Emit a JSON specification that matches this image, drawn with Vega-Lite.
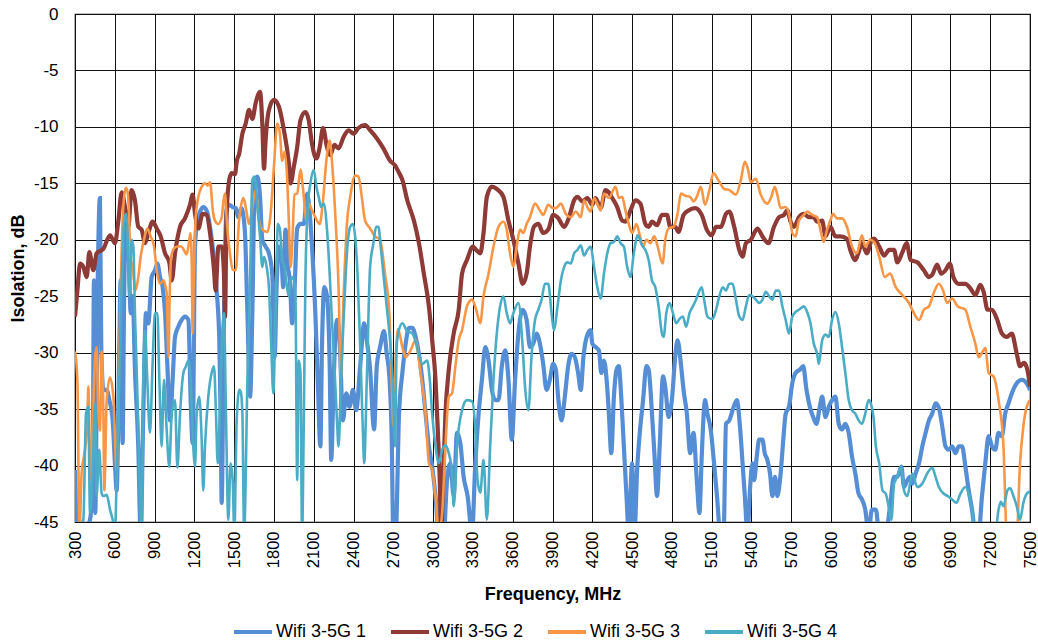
{
"$schema":"https://vega.github.io/schema/vega-lite/v6.json",
"width":955,"height":508,
"autosize":{"type":"none"},
"padding":{"left":75,"top":14,"right":8,"bottom":121},
"background":"white",
"config":{"view":{"stroke":"#000","strokeWidth":1.2},"font":"Liberation Sans",
"axis":{"labelColor":"#000","titleColor":"#000","ticks":false,"domain":false,"grid":true,"gridColor":"#111","gridWidth":1,"labelFont":"Liberation Sans","titleFont":"Liberation Sans"}},
"datasets":{
"s1":[{"f":300,"v":-40.4},{"f":318,"v":-46},{"f":363,"v":-46},{"f":413,"v":-44.8},{"f":433,"v":-41.3},{"f":443,"v":-23.6},{"f":453,"v":-44.2},{"f":468,"v":-26.5},{"f":488,"v":-16.3},{"f":498,"v":-29.5},{"f":514,"v":-33.3},{"f":539,"v":-33.3},{"f":559,"v":-34.2},{"f":584,"v":-36.0},{"f":601,"v":-39.8},{"f":614,"v":-42.2},{"f":634,"v":-29.5},{"f":644,"v":-23.6},{"f":659,"v":-38.0},{"f":669,"v":-26.5},{"f":685,"v":-18.3},{"f":702,"v":-20.0},{"f":720,"v":-26.5},{"f":735,"v":-25.0},{"f":752,"v":-31.5},{"f":777,"v":-38.3},{"f":795,"v":-46},{"f":815,"v":-35.4},{"f":835,"v":-26.5},{"f":853,"v":-27.4},{"f":878,"v":-23.3},{"f":903,"v":-22.7},{"f":921,"v":-22.1},{"f":941,"v":-23.3},{"f":961,"v":-24.2},{"f":979,"v":-26.5},{"f":996,"v":-31.0},{"f":1016,"v":-36.0},{"f":1036,"v":-32.4},{"f":1054,"v":-28.6},{"f":1079,"v":-27.7},{"f":1104,"v":-27.1},{"f":1129,"v":-26.8},{"f":1155,"v":-27.1},{"f":1172,"v":-34.2},{"f":1187,"v":-38.0},{"f":1205,"v":-20.6},{"f":1222,"v":-18.3},{"f":1247,"v":-17.4},{"f":1267,"v":-17.1},{"f":1292,"v":-17.4},{"f":1318,"v":-18.85},{"f":1343,"v":-21.2},{"f":1368,"v":-24.5},{"f":1388,"v":-28.9},{"f":1398,"v":-35.4},{"f":1406,"v":-43.3},{"f":1418,"v":-32.4},{"f":1431,"v":-21.2},{"f":1443,"v":-17.4},{"f":1463,"v":-16.9},{"f":1488,"v":-17.1},{"f":1513,"v":-17.2},{"f":1530,"v":-18.0},{"f":1555,"v":-17.2},{"f":1580,"v":-19.1},{"f":1600,"v":-26.5},{"f":1620,"v":-33.9},{"f":1637,"v":-26.5},{"f":1655,"v":-15.0},{"f":1675,"v":-14.4},{"f":1695,"v":-16.2},{"f":1712,"v":-20.0},{"f":1737,"v":-20.6},{"f":1762,"v":-21.2},{"f":1787,"v":-23.0},{"f":1805,"v":-30.4},{"f":1820,"v":-24.2},{"f":1837,"v":-20.6},{"f":1855,"v":-21.2},{"f":1870,"v":-24.2},{"f":1887,"v":-19.1},{"f":1905,"v":-22.4},{"f":1920,"v":-23.6},{"f":1937,"v":-27.4},{"f":1955,"v":-24.5},{"f":1975,"v":-19.0},{"f":2000,"v":-18.6},{"f":2025,"v":-18.6},{"f":2050,"v":-15.9},{"f":2070,"v":-17.7},{"f":2087,"v":-20.6},{"f":2112,"v":-26.5},{"f":2130,"v":-32.4},{"f":2150,"v":-38.3},{"f":2162,"v":-29.5},{"f":2180,"v":-24.2},{"f":2200,"v":-25.0},{"f":2220,"v":-31.0},{"f":2232,"v":-39.5},{"f":2250,"v":-32.4},{"f":2275,"v":-27.1},{"f":2295,"v":-28.9},{"f":2320,"v":-36.0},{"f":2345,"v":-33.6},{"f":2370,"v":-34.8},{"f":2395,"v":-33.3},{"f":2420,"v":-35.1},{"f":2450,"v":-31.2},{"f":2480,"v":-27.4},{"f":2500,"v":-28.9},{"f":2525,"v":-31.5},{"f":2555,"v":-36.8},{"f":2575,"v":-31.2},{"f":2600,"v":-29.5},{"f":2630,"v":-28.1},{"f":2650,"v":-30.1},{"f":2670,"v":-32.1},{"f":2687,"v":-37.1},{"f":2700,"v":-46},{"f":2718,"v":-46},{"f":2743,"v":-35.4},{"f":2768,"v":-31.8},{"f":2793,"v":-29.2},{"f":2818,"v":-27.8},{"f":2843,"v":-27.8},{"f":2868,"v":-28.6},{"f":2893,"v":-30.1},{"f":2918,"v":-32.4},{"f":2943,"v":-35.4},{"f":2968,"v":-38.3},{"f":2993,"v":-40.1},{"f":3018,"v":-42.7},{"f":3043,"v":-46},{"f":3080,"v":-46},{"f":3105,"v":-41.3},{"f":3130,"v":-39.8},{"f":3155,"v":-42.7},{"f":3180,"v":-37.1},{"f":3205,"v":-38.0},{"f":3230,"v":-41.0},{"f":3260,"v":-42.7},{"f":3293,"v":-46},{"f":3318,"v":-39.8},{"f":3343,"v":-35.4},{"f":3368,"v":-32.4},{"f":3393,"v":-29.5},{"f":3418,"v":-30.7},{"f":3443,"v":-33.3},{"f":3468,"v":-34.2},{"f":3493,"v":-34.2},{"f":3518,"v":-31.2},{"f":3543,"v":-29.8},{"f":3568,"v":-32.4},{"f":3593,"v":-37.7},{"f":3618,"v":-32.4},{"f":3643,"v":-28.3},{"f":3675,"v":-26.2},{"f":3705,"v":-27.1},{"f":3730,"v":-29.5},{"f":3755,"v":-29.2},{"f":3780,"v":-28.3},{"f":3805,"v":-29.2},{"f":3830,"v":-31.0},{"f":3855,"v":-33.3},{"f":3880,"v":-32.4},{"f":3905,"v":-31.0},{"f":3925,"v":-31.5},{"f":3943,"v":-34},{"f":3968,"v":-36.0},{"f":3993,"v":-33.9},{"f":4018,"v":-31.2},{"f":4043,"v":-30.1},{"f":4068,"v":-30.4},{"f":4093,"v":-31.8},{"f":4113,"v":-33.3},{"f":4133,"v":-30.4},{"f":4158,"v":-28.6},{"f":4188,"v":-28.0},{"f":4200,"v":-29.2},{"f":4225,"v":-29.5},{"f":4250,"v":-29.8},{"f":4268,"v":-31.8},{"f":4288,"v":-30.7},{"f":4308,"v":-32.4},{"f":4325,"v":-35.4},{"f":4343,"v":-38.9},{"f":4363,"v":-33.9},{"f":4383,"v":-31.5},{"f":4400,"v":-31.2},{"f":4418,"v":-33.9},{"f":4438,"v":-38.3},{"f":4458,"v":-42.7},{"f":4475,"v":-46},{"f":4500,"v":-39.8},{"f":4518,"v":-46},{"f":4538,"v":-40.4},{"f":4558,"v":-37.1},{"f":4583,"v":-34.2},{"f":4608,"v":-31.2},{"f":4625,"v":-31.5},{"f":4650,"v":-35.4},{"f":4668,"v":-38.9},{"f":4688,"v":-42.7},{"f":4708,"v":-38.3},{"f":4733,"v":-32.1},{"f":4750,"v":-33.0},{"f":4775,"v":-35.7},{"f":4800,"v":-34.2},{"f":4825,"v":-30.4},{"f":4843,"v":-28.9},{"f":4868,"v":-31.0},{"f":4888,"v":-33.3},{"f":4913,"v":-35.4},{"f":4938,"v":-38.9},{"f":4963,"v":-37.1},{"f":4988,"v":-41.3},{"f":5008,"v":-44.2},{"f":5025,"v":-39.2},{"f":5050,"v":-34.2},{"f":5068,"v":-35.4},{"f":5093,"v":-36.8},{"f":5118,"v":-39.8},{"f":5140,"v":-42.7},{"f":5165,"v":-46},{"f":5190,"v":-46},{"f":5208,"v":-36.3},{"f":5233,"v":-36.0},{"f":5258,"v":-35.1},{"f":5290,"v":-34.2},{"f":5315,"v":-36.8},{"f":5333,"v":-39.8},{"f":5350,"v":-42.7},{"f":5370,"v":-46},{"f":5390,"v":-41.9},{"f":5408,"v":-39.8},{"f":5420,"v":-41.3},{"f":5440,"v":-39.2},{"f":5458,"v":-37.7},{"f":5483,"v":-37.7},{"f":5500,"v":-38.9},{"f":5520,"v":-39.5},{"f":5540,"v":-40.7},{"f":5558,"v":-42.7},{"f":5578,"v":-41.0},{"f":5595,"v":-42.7},{"f":5620,"v":-40.7},{"f":5640,"v":-37.7},{"f":5658,"v":-35.4},{"f":5683,"v":-34.8},{"f":5708,"v":-32.7},{"f":5733,"v":-31.8},{"f":5765,"v":-31.5},{"f":5790,"v":-31.2},{"f":5815,"v":-33.3},{"f":5840,"v":-34.8},{"f":5865,"v":-35.7},{"f":5890,"v":-36.3},{"f":5915,"v":-34.8},{"f":5933,"v":-33.9},{"f":5958,"v":-35.7},{"f":5983,"v":-34.8},{"f":6008,"v":-34.2},{"f":6033,"v":-33.9},{"f":6058,"v":-36.3},{"f":6083,"v":-36.8},{"f":6108,"v":-36.3},{"f":6133,"v":-37.1},{"f":6158,"v":-39.2},{"f":6183,"v":-40.7},{"f":6208,"v":-42.5},{"f":6233,"v":-43.0},{"f":6258,"v":-43.9},{"f":6283,"v":-46},{"f":6308,"v":-43.9},{"f":6338,"v":-43.9},{"f":6363,"v":-46},{"f":6413,"v":-46},{"f":6445,"v":-43.6},{"f":6475,"v":-41.0},{"f":6500,"v":-41.0},{"f":6530,"v":-40.1},{"f":6550,"v":-41.9},{"f":6575,"v":-41.3},{"f":6595,"v":-41.0},{"f":6613,"v":-41.6},{"f":6638,"v":-40.7},{"f":6663,"v":-39.8},{"f":6688,"v":-38.3},{"f":6713,"v":-37.1},{"f":6738,"v":-36.0},{"f":6763,"v":-35.4},{"f":6788,"v":-34.5},{"f":6813,"v":-34.9},{"f":6838,"v":-36.5},{"f":6863,"v":-38.3},{"f":6888,"v":-38.6},{"f":6913,"v":-38.3},{"f":6938,"v":-38.9},{"f":6963,"v":-38.3},{"f":6988,"v":-38.3},{"f":7013,"v":-40.1},{"f":7038,"v":-42.2},{"f":7063,"v":-43.9},{"f":7088,"v":-46},{"f":7113,"v":-46},{"f":7138,"v":-42.7},{"f":7163,"v":-39.8},{"f":7188,"v":-37.4},{"f":7213,"v":-38.3},{"f":7238,"v":-38.6},{"f":7263,"v":-37.1},{"f":7288,"v":-37.4},{"f":7313,"v":-35.4},{"f":7338,"v":-34.5},{"f":7363,"v":-33.6},{"f":7400,"v":-32.7},{"f":7438,"v":-32.4},{"f":7475,"v":-32.7},{"f":7500,"v":-33.3}],
"s2":[{"f":300,"v":-26.8},{"f":318,"v":-24.5},{"f":338,"v":-22.1},{"f":363,"v":-22.4},{"f":388,"v":-23.3},{"f":408,"v":-21.1},{"f":438,"v":-22.7},{"f":463,"v":-21.2},{"f":514,"v":-20.8},{"f":564,"v":-19.6},{"f":601,"v":-20.3},{"f":627,"v":-18.3},{"f":652,"v":-15.8},{"f":677,"v":-17.1},{"f":702,"v":-18.85},{"f":727,"v":-15.6},{"f":752,"v":-16.5},{"f":777,"v":-18.85},{"f":802,"v":-19.1},{"f":828,"v":-20.3},{"f":853,"v":-19.4},{"f":885,"v":-18.4},{"f":916,"v":-19.0},{"f":946,"v":-19.7},{"f":979,"v":-21.2},{"f":1011,"v":-22.0},{"f":1029,"v":-23.6},{"f":1054,"v":-21.2},{"f":1092,"v":-18.85},{"f":1129,"v":-18.1},{"f":1167,"v":-16.9},{"f":1187,"v":-16.0},{"f":1205,"v":-17.7},{"f":1230,"v":-19.0},{"f":1262,"v":-17.7},{"f":1292,"v":-17.8},{"f":1318,"v":-19.4},{"f":1348,"v":-22.7},{"f":1360,"v":-24.5},{"f":1381,"v":-20.6},{"f":1406,"v":-20.6},{"f":1423,"v":-23.0},{"f":1431,"v":-26.8},{"f":1443,"v":-17.7},{"f":1463,"v":-14.7},{"f":1481,"v":-14.1},{"f":1506,"v":-14.2},{"f":1520,"v":-13.0},{"f":1537,"v":-12.4},{"f":1562,"v":-10.6},{"f":1587,"v":-9.7},{"f":1612,"v":-8.5},{"f":1637,"v":-9.3},{"f":1662,"v":-7.9},{"f":1695,"v":-6.9},{"f":1712,"v":-9.7},{"f":1725,"v":-13.7},{"f":1737,"v":-11.2},{"f":1762,"v":-8.5},{"f":1800,"v":-7.6},{"f":1837,"v":-8.2},{"f":1875,"v":-10.3},{"f":1912,"v":-13.2},{"f":1925,"v":-15.0},{"f":1950,"v":-13.5},{"f":1975,"v":-11.8},{"f":2000,"v":-9.4},{"f":2037,"v":-8.7},{"f":2062,"v":-9.4},{"f":2087,"v":-11.5},{"f":2120,"v":-12.8},{"f":2145,"v":-11.8},{"f":2170,"v":-10.1},{"f":2200,"v":-11.8},{"f":2225,"v":-12.5},{"f":2255,"v":-11.6},{"f":2287,"v":-11.9},{"f":2325,"v":-10.9},{"f":2362,"v":-10.3},{"f":2400,"v":-10.6},{"f":2437,"v":-10.1},{"f":2487,"v":-9.85},{"f":2525,"v":-10.3},{"f":2575,"v":-11.0},{"f":2625,"v":-11.9},{"f":2675,"v":-13.0},{"f":2712,"v":-13.4},{"f":2740,"v":-14.0},{"f":2768,"v":-14.7},{"f":2805,"v":-16.5},{"f":2855,"v":-18.3},{"f":2893,"v":-20.3},{"f":2930,"v":-23.0},{"f":2968,"v":-25.9},{"f":2993,"v":-28.9},{"f":3018,"v":-32.4},{"f":3035,"v":-36.8},{"f":3050,"v":-41.3},{"f":3060,"v":-46},{"f":3075,"v":-41.3},{"f":3093,"v":-35.4},{"f":3118,"v":-31.5},{"f":3155,"v":-28.3},{"f":3193,"v":-26.2},{"f":3218,"v":-23.0},{"f":3255,"v":-21.8},{"f":3300,"v":-20.6},{"f":3325,"v":-20.9},{"f":3355,"v":-21.2},{"f":3380,"v":-19.4},{"f":3405,"v":-16.2},{"f":3443,"v":-15.3},{"f":3480,"v":-15.5},{"f":3530,"v":-16.2},{"f":3568,"v":-18.3},{"f":3605,"v":-20.0},{"f":3643,"v":-22.1},{"f":3675,"v":-23.9},{"f":3705,"v":-23.0},{"f":3730,"v":-20.6},{"f":3760,"v":-18.85},{"f":3793,"v":-18.6},{"f":3830,"v":-19.4},{"f":3868,"v":-19.1},{"f":3905,"v":-17.8},{"f":3938,"v":-18.0},{"f":3988,"v":-18.85},{"f":4025,"v":-18.0},{"f":4063,"v":-16.5},{"f":4088,"v":-16.2},{"f":4125,"v":-16.6},{"f":4163,"v":-16.3},{"f":4200,"v":-16.9},{"f":4225,"v":-16.3},{"f":4263,"v":-17.2},{"f":4300,"v":-15.6},{"f":4325,"v":-15.8},{"f":4350,"v":-16.3},{"f":4388,"v":-17.1},{"f":4425,"v":-18.3},{"f":4450,"v":-18.4},{"f":4488,"v":-17.4},{"f":4525,"v":-16.5},{"f":4563,"v":-16.8},{"f":4600,"v":-18.6},{"f":4625,"v":-18.85},{"f":4650,"v":-18.4},{"f":4688,"v":-18.7},{"f":4725,"v":-17.8},{"f":4763,"v":-17.8},{"f":4788,"v":-18.85},{"f":4825,"v":-18.85},{"f":4850,"v":-19.3},{"f":4888,"v":-17.8},{"f":4925,"v":-17.4},{"f":4975,"v":-17.2},{"f":5025,"v":-17.8},{"f":5063,"v":-19.1},{"f":5100,"v":-19.6},{"f":5133,"v":-18.85},{"f":5170,"v":-18.85},{"f":5208,"v":-17.7},{"f":5233,"v":-17.5},{"f":5270,"v":-18.85},{"f":5308,"v":-20.9},{"f":5333,"v":-21.5},{"f":5358,"v":-20.3},{"f":5395,"v":-20.0},{"f":5445,"v":-19.0},{"f":5483,"v":-19.7},{"f":5528,"v":-20.3},{"f":5570,"v":-18.85},{"f":5608,"v":-18.0},{"f":5645,"v":-17.8},{"f":5670,"v":-17.4},{"f":5695,"v":-18.4},{"f":5720,"v":-18.85},{"f":5758,"v":-18.0},{"f":5795,"v":-17.7},{"f":5833,"v":-18.0},{"f":5870,"v":-18.0},{"f":5895,"v":-18.4},{"f":5933,"v":-18.3},{"f":5958,"v":-19.7},{"f":5995,"v":-18.85},{"f":6033,"v":-19.7},{"f":6070,"v":-19.7},{"f":6120,"v":-19.9},{"f":6145,"v":-20.9},{"f":6183,"v":-21.8},{"f":6208,"v":-21.1},{"f":6233,"v":-20.3},{"f":6270,"v":-21.2},{"f":6308,"v":-20.0},{"f":6325,"v":-19.9},{"f":6363,"v":-20.6},{"f":6400,"v":-21.4},{"f":6438,"v":-20.9},{"f":6475,"v":-20.9},{"f":6500,"v":-22.0},{"f":6538,"v":-21.1},{"f":6570,"v":-20.3},{"f":6600,"v":-21.8},{"f":6650,"v":-22.0},{"f":6700,"v":-22.7},{"f":6738,"v":-23.3},{"f":6763,"v":-23.1},{"f":6800,"v":-22.2},{"f":6830,"v":-23.0},{"f":6863,"v":-22.7},{"f":6895,"v":-22.1},{"f":6925,"v":-23.4},{"f":6963,"v":-23.9},{"f":7013,"v":-23.9},{"f":7050,"v":-24.3},{"f":7088,"v":-24.9},{"f":7125,"v":-24.0},{"f":7150,"v":-24.6},{"f":7180,"v":-26.2},{"f":7213,"v":-26.2},{"f":7250,"v":-27.0},{"f":7288,"v":-28.3},{"f":7325,"v":-28.6},{"f":7363,"v":-28.3},{"f":7400,"v":-30.1},{"f":7425,"v":-31.2},{"f":7455,"v":-30.9},{"f":7480,"v":-31.5},{"f":7500,"v":-33.0}],
"s3":[{"f":300,"v":-29.9},{"f":318,"v":-32.4},{"f":333,"v":-46},{"f":350,"v":-40.7},{"f":375,"v":-38.6},{"f":393,"v":-36.5},{"f":400,"v":-33.0},{"f":418,"v":-41.3},{"f":433,"v":-36.5},{"f":451,"v":-30.5},{"f":463,"v":-29.5},{"f":476,"v":-35.4},{"f":488,"v":-36.9},{"f":501,"v":-29.9},{"f":514,"v":-35.4},{"f":521,"v":-42.2},{"f":539,"v":-34.2},{"f":564,"v":-32.2},{"f":590,"v":-34.0},{"f":614,"v":-40.5},{"f":630,"v":-33.0},{"f":645,"v":-24.0},{"f":660,"v":-18.0},{"f":672,"v":-16.0},{"f":685,"v":-15.4},{"f":697,"v":-15.8},{"f":708,"v":-18.0},{"f":717,"v":-21.5},{"f":735,"v":-22.5},{"f":755,"v":-24.5},{"f":775,"v":-23.5},{"f":795,"v":-21.5},{"f":820,"v":-20.0},{"f":845,"v":-19.0},{"f":870,"v":-19.7},{"f":896,"v":-20.6},{"f":916,"v":-22.7},{"f":941,"v":-23.9},{"f":966,"v":-23.6},{"f":991,"v":-24.7},{"f":1005,"v":-30.4},{"f":1012,"v":-26.0},{"f":1025,"v":-21.5},{"f":1045,"v":-20.8},{"f":1070,"v":-20.6},{"f":1100,"v":-20.6},{"f":1125,"v":-21.0},{"f":1140,"v":-21.3},{"f":1155,"v":-20.6},{"f":1170,"v":-19.4},{"f":1180,"v":-22.0},{"f":1187,"v":-28.3},{"f":1195,"v":-24.0},{"f":1210,"v":-18.0},{"f":1230,"v":-16.2},{"f":1255,"v":-15.3},{"f":1280,"v":-15.0},{"f":1300,"v":-15.2},{"f":1318,"v":-14.9},{"f":1340,"v":-17.5},{"f":1355,"v":-18.3},{"f":1380,"v":-18.6},{"f":1406,"v":-18.0},{"f":1420,"v":-16.5},{"f":1431,"v":-15.9},{"f":1445,"v":-18.5},{"f":1468,"v":-21.2},{"f":1494,"v":-22.7},{"f":1512,"v":-22.7},{"f":1537,"v":-18.3},{"f":1570,"v":-16.3},{"f":1587,"v":-17.1},{"f":1612,"v":-18.6},{"f":1637,"v":-17.1},{"f":1662,"v":-15.6},{"f":1687,"v":-18.3},{"f":1712,"v":-19.1},{"f":1750,"v":-19.3},{"f":1775,"v":-17.7},{"f":1800,"v":-13.5},{"f":1825,"v":-9.7},{"f":1845,"v":-10.6},{"f":1862,"v":-13.0},{"f":1880,"v":-12.2},{"f":1900,"v":-14.7},{"f":1912,"v":-18.3},{"f":1925,"v":-22.4},{"f":1937,"v":-20.6},{"f":1955,"v":-16.0},{"f":1975,"v":-15.9},{"f":2000,"v":-13.8},{"f":2020,"v":-15.6},{"f":2045,"v":-18.3},{"f":2062,"v":-16.8},{"f":2087,"v":-17.4},{"f":2112,"v":-18.0},{"f":2145,"v":-18.6},{"f":2170,"v":-16.5},{"f":2195,"v":-13.0},{"f":2220,"v":-11.2},{"f":2237,"v":-13.0},{"f":2262,"v":-17.7},{"f":2287,"v":-24.2},{"f":2305,"v":-32.4},{"f":2325,"v":-25.0},{"f":2350,"v":-18.6},{"f":2375,"v":-16.2},{"f":2412,"v":-14.3},{"f":2437,"v":-14.4},{"f":2462,"v":-16.2},{"f":2487,"v":-18.3},{"f":2525,"v":-19.0},{"f":2562,"v":-19.7},{"f":2600,"v":-20.0},{"f":2637,"v":-23.0},{"f":2670,"v":-26.5},{"f":2687,"v":-32.4},{"f":2700,"v":-36.5},{"f":2720,"v":-30.0},{"f":2735,"v":-27.9},{"f":2768,"v":-29.5},{"f":2793,"v":-30.4},{"f":2830,"v":-29.8},{"f":2868,"v":-28.9},{"f":2905,"v":-31.8},{"f":2943,"v":-35.4},{"f":2968,"v":-39.8},{"f":2993,"v":-40.4},{"f":3018,"v":-42.7},{"f":3043,"v":-46},{"f":3068,"v":-44.2},{"f":3093,"v":-38.3},{"f":3118,"v":-33.9},{"f":3143,"v":-33.6},{"f":3168,"v":-31.2},{"f":3193,"v":-28.9},{"f":3218,"v":-28.0},{"f":3255,"v":-25.9},{"f":3293,"v":-25.3},{"f":3325,"v":-26.2},{"f":3355,"v":-27.4},{"f":3380,"v":-25.0},{"f":3418,"v":-23.0},{"f":3455,"v":-20.6},{"f":3493,"v":-18.85},{"f":3530,"v":-18.4},{"f":3555,"v":-19.1},{"f":3580,"v":-21.2},{"f":3605,"v":-22.4},{"f":3630,"v":-20.6},{"f":3655,"v":-19.1},{"f":3680,"v":-19.4},{"f":3705,"v":-18.6},{"f":3730,"v":-18.0},{"f":3768,"v":-16.8},{"f":3805,"v":-17.4},{"f":3830,"v":-17.8},{"f":3868,"v":-16.9},{"f":3905,"v":-17.2},{"f":3925,"v":-17.2},{"f":3963,"v":-16.8},{"f":4000,"v":-17.7},{"f":4038,"v":-18.0},{"f":4075,"v":-17.5},{"f":4113,"v":-18.0},{"f":4138,"v":-16.5},{"f":4163,"v":-17.1},{"f":4188,"v":-17.5},{"f":4213,"v":-16.3},{"f":4238,"v":-16.8},{"f":4263,"v":-17.4},{"f":4288,"v":-15.9},{"f":4325,"v":-16.3},{"f":4375,"v":-15.3},{"f":4400,"v":-16.3},{"f":4425,"v":-16.2},{"f":4450,"v":-17.4},{"f":4475,"v":-18.6},{"f":4500,"v":-19.4},{"f":4533,"v":-18.6},{"f":4558,"v":-19.6},{"f":4583,"v":-20.6},{"f":4608,"v":-20.0},{"f":4638,"v":-20.3},{"f":4668,"v":-19.7},{"f":4693,"v":-20.6},{"f":4730,"v":-22.1},{"f":4750,"v":-20.0},{"f":4775,"v":-19.0},{"f":4813,"v":-18.85},{"f":4843,"v":-17.7},{"f":4868,"v":-15.9},{"f":4900,"v":-16.1},{"f":4938,"v":-16.2},{"f":4963,"v":-16.6},{"f":4988,"v":-16.2},{"f":5018,"v":-15.3},{"f":5050,"v":-16.9},{"f":5083,"v":-15.6},{"f":5113,"v":-14.1},{"f":5150,"v":-14.7},{"f":5195,"v":-15.5},{"f":5233,"v":-15.6},{"f":5283,"v":-16.0},{"f":5320,"v":-14.7},{"f":5350,"v":-13.1},{"f":5375,"v":-13.8},{"f":5395,"v":-14.9},{"f":5433,"v":-14.6},{"f":5470,"v":-16.0},{"f":5520,"v":-16.8},{"f":5550,"v":-16.2},{"f":5575,"v":-15.3},{"f":5595,"v":-16.0},{"f":5620,"v":-17.2},{"f":5658,"v":-17.1},{"f":5688,"v":-18.0},{"f":5708,"v":-19.4},{"f":5733,"v":-19.7},{"f":5758,"v":-18.3},{"f":5795,"v":-17.8},{"f":5820,"v":-17.5},{"f":5858,"v":-17.8},{"f":5895,"v":-18.0},{"f":5925,"v":-19.4},{"f":5945,"v":-20.2},{"f":5970,"v":-19.1},{"f":5995,"v":-18.3},{"f":6015,"v":-17.7},{"f":6045,"v":-18.1},{"f":6083,"v":-18.1},{"f":6120,"v":-18.85},{"f":6158,"v":-20.6},{"f":6195,"v":-21.2},{"f":6233,"v":-19.6},{"f":6258,"v":-20.6},{"f":6295,"v":-20.0},{"f":6325,"v":-20.2},{"f":6363,"v":-21.5},{"f":6405,"v":-23.3},{"f":6445,"v":-23.0},{"f":6488,"v":-24.2},{"f":6538,"v":-24.9},{"f":6588,"v":-25.6},{"f":6625,"v":-26.5},{"f":6663,"v":-27.1},{"f":6700,"v":-26.2},{"f":6738,"v":-25.9},{"f":6775,"v":-24.7},{"f":6813,"v":-23.9},{"f":6845,"v":-24.5},{"f":6875,"v":-25.6},{"f":6913,"v":-25.2},{"f":6955,"v":-25.9},{"f":7013,"v":-26.2},{"f":7050,"v":-27.7},{"f":7088,"v":-29.2},{"f":7113,"v":-30.4},{"f":7138,"v":-30.0},{"f":7163,"v":-29.6},{"f":7188,"v":-31.8},{"f":7225,"v":-32.1},{"f":7263,"v":-34.2},{"f":7300,"v":-38.3},{"f":7325,"v":-46},{"f":7400,"v":-46},{"f":7425,"v":-39.8},{"f":7450,"v":-36.5},{"f":7475,"v":-34.8},{"f":7500,"v":-34.2}],
"s4":[{"f":300,"v":-46},{"f":363,"v":-44.8},{"f":383,"v":-35.4},{"f":400,"v":-34.8},{"f":413,"v":-44.2},{"f":433,"v":-40.7},{"f":451,"v":-34.5},{"f":463,"v":-42.7},{"f":483,"v":-38.6},{"f":501,"v":-42.5},{"f":514,"v":-42.7},{"f":539,"v":-42.6},{"f":564,"v":-43.9},{"f":584,"v":-44.8},{"f":601,"v":-46},{"f":614,"v":-41.3},{"f":634,"v":-32.4},{"f":652,"v":-23.6},{"f":669,"v":-18.6},{"f":685,"v":-17.7},{"f":695,"v":-19.4},{"f":710,"v":-25.0},{"f":727,"v":-20.0},{"f":740,"v":-20.6},{"f":752,"v":-26.5},{"f":765,"v":-31.5},{"f":777,"v":-36.8},{"f":790,"v":-42.7},{"f":803,"v":-46},{"f":815,"v":-32.4},{"f":828,"v":-28.0},{"f":845,"v":-32.4},{"f":865,"v":-37.1},{"f":885,"v":-31.0},{"f":903,"v":-26.5},{"f":921,"v":-26.5},{"f":936,"v":-32.4},{"f":953,"v":-38.3},{"f":971,"v":-32.4},{"f":991,"v":-36.8},{"f":1011,"v":-40.1},{"f":1029,"v":-35.4},{"f":1054,"v":-34.2},{"f":1072,"v":-40.2},{"f":1092,"v":-35.4},{"f":1117,"v":-31.8},{"f":1137,"v":-31.2},{"f":1155,"v":-30.7},{"f":1172,"v":-32.4},{"f":1187,"v":-37.1},{"f":1205,"v":-40.1},{"f":1217,"v":-35.4},{"f":1237,"v":-33.9},{"f":1255,"v":-37.7},{"f":1267,"v":-42.2},{"f":1280,"v":-38.3},{"f":1305,"v":-33.9},{"f":1330,"v":-31.8},{"f":1348,"v":-31.2},{"f":1363,"v":-35.4},{"f":1376,"v":-39.8},{"f":1388,"v":-36.8},{"f":1406,"v":-29.5},{"f":1423,"v":-26.5},{"f":1438,"v":-35.4},{"f":1456,"v":-44.8},{"f":1473,"v":-39.8},{"f":1489,"v":-41.3},{"f":1501,"v":-46},{"f":1519,"v":-36.0},{"f":1539,"v":-33.3},{"f":1550,"v":-33.5},{"f":1562,"v":-35.4},{"f":1575,"v":-46},{"f":1600,"v":-32.4},{"f":1620,"v":-23.6},{"f":1637,"v":-14.7},{"f":1655,"v":-14.4},{"f":1675,"v":-17.1},{"f":1695,"v":-19.7},{"f":1712,"v":-22.4},{"f":1725,"v":-21.5},{"f":1745,"v":-22.4},{"f":1762,"v":-24.2},{"f":1780,"v":-29.5},{"f":1795,"v":-33.6},{"f":1812,"v":-26.5},{"f":1830,"v":-18.6},{"f":1845,"v":-19.1},{"f":1862,"v":-21.8},{"f":1880,"v":-22.4},{"f":1895,"v":-23.9},{"f":1912,"v":-25.0},{"f":1925,"v":-23.6},{"f":1945,"v":-23.3},{"f":1962,"v":-25.0},{"f":1975,"v":-41.3},{"f":1987,"v":-30.7},{"f":2000,"v":-31.8},{"f":2012,"v":-46},{"f":2025,"v":-36.0},{"f":2037,"v":-23.6},{"f":2055,"v":-17.1},{"f":2075,"v":-15.0},{"f":2100,"v":-13.8},{"f":2120,"v":-15.3},{"f":2137,"v":-16.2},{"f":2155,"v":-17.1},{"f":2175,"v":-16.8},{"f":2200,"v":-19.1},{"f":2220,"v":-23.0},{"f":2237,"v":-27.1},{"f":2255,"v":-31.0},{"f":2275,"v":-36.0},{"f":2287,"v":-38.3},{"f":2305,"v":-32.4},{"f":2325,"v":-27.1},{"f":2350,"v":-21.2},{"f":2375,"v":-18.85},{"f":2395,"v":-18.6},{"f":2412,"v":-19.7},{"f":2430,"v":-23.0},{"f":2450,"v":-29.5},{"f":2470,"v":-36.8},{"f":2480,"v":-39.8},{"f":2500,"v":-32.4},{"f":2525,"v":-22.4},{"f":2550,"v":-20.3},{"f":2570,"v":-18.85},{"f":2587,"v":-18.85},{"f":2605,"v":-20.6},{"f":2625,"v":-23.0},{"f":2650,"v":-25.9},{"f":2675,"v":-28.9},{"f":2695,"v":-32.4},{"f":2712,"v":-38.3},{"f":2725,"v":-29.5},{"f":2737,"v":-28.3},{"f":2768,"v":-27.4},{"f":2805,"v":-28.1},{"f":2843,"v":-28.3},{"f":2880,"v":-29.5},{"f":2918,"v":-31.0},{"f":2955,"v":-30.7},{"f":2975,"v":-32.4},{"f":2993,"v":-35.4},{"f":3018,"v":-38.3},{"f":3043,"v":-39.8},{"f":3068,"v":-38.6},{"f":3093,"v":-38.2},{"f":3118,"v":-38.9},{"f":3143,"v":-40.7},{"f":3155,"v":-43.6},{"f":3180,"v":-38.3},{"f":3218,"v":-35.1},{"f":3255,"v":-34.2},{"f":3293,"v":-34.3},{"f":3318,"v":-36.8},{"f":3335,"v":-41.3},{"f":3355,"v":-42.4},{"f":3380,"v":-39.5},{"f":3405,"v":-44.8},{"f":3430,"v":-38.3},{"f":3455,"v":-32.4},{"f":3480,"v":-28.3},{"f":3505,"v":-25.9},{"f":3530,"v":-25.0},{"f":3555,"v":-26.5},{"f":3580,"v":-27.4},{"f":3605,"v":-26.5},{"f":3643,"v":-25.6},{"f":3675,"v":-29.5},{"f":3693,"v":-33.0},{"f":3718,"v":-35.1},{"f":3743,"v":-30.1},{"f":3768,"v":-27.1},{"f":3793,"v":-26.2},{"f":3818,"v":-25.3},{"f":3843,"v":-23.9},{"f":3868,"v":-23.9},{"f":3893,"v":-26.5},{"f":3910,"v":-28.0},{"f":3938,"v":-25.9},{"f":3963,"v":-23.6},{"f":3988,"v":-22.4},{"f":4013,"v":-22.0},{"f":4038,"v":-22.1},{"f":4063,"v":-21.2},{"f":4088,"v":-20.9},{"f":4113,"v":-20.5},{"f":4138,"v":-21.4},{"f":4163,"v":-20.9},{"f":4188,"v":-20.6},{"f":4213,"v":-22.4},{"f":4238,"v":-24.2},{"f":4263,"v":-25.2},{"f":4288,"v":-23.0},{"f":4313,"v":-21.2},{"f":4338,"v":-20.3},{"f":4363,"v":-20.2},{"f":4388,"v":-19.7},{"f":4413,"v":-20.3},{"f":4438,"v":-20.6},{"f":4463,"v":-22.4},{"f":4488,"v":-23.3},{"f":4513,"v":-21.2},{"f":4543,"v":-19.6},{"f":4575,"v":-20.5},{"f":4600,"v":-20.9},{"f":4625,"v":-21.8},{"f":4650,"v":-23.6},{"f":4675,"v":-24.2},{"f":4700,"v":-25.9},{"f":4725,"v":-28.3},{"f":4738,"v":-28.6},{"f":4758,"v":-26.5},{"f":4783,"v":-25.6},{"f":4808,"v":-26.5},{"f":4833,"v":-27.4},{"f":4858,"v":-27.0},{"f":4883,"v":-26.8},{"f":4908,"v":-27.7},{"f":4933,"v":-26.5},{"f":4958,"v":-25.9},{"f":4983,"v":-25.3},{"f":5008,"v":-24.5},{"f":5025,"v":-24.2},{"f":5043,"v":-25.3},{"f":5068,"v":-26.8},{"f":5093,"v":-27.0},{"f":5108,"v":-27.0},{"f":5133,"v":-26.2},{"f":5158,"v":-25.0},{"f":5183,"v":-24.2},{"f":5208,"v":-24.5},{"f":5233,"v":-23.9},{"f":5258,"v":-23.9},{"f":5283,"v":-25.3},{"f":5308,"v":-26.8},{"f":5333,"v":-27.1},{"f":5358,"v":-25.9},{"f":5383,"v":-24.9},{"f":5408,"v":-25.0},{"f":5433,"v":-25.3},{"f":5458,"v":-25.6},{"f":5483,"v":-25.3},{"f":5508,"v":-24.6},{"f":5533,"v":-25.0},{"f":5558,"v":-25.3},{"f":5583,"v":-24.5},{"f":5608,"v":-24.5},{"f":5633,"v":-25.9},{"f":5658,"v":-27.1},{"f":5683,"v":-28.3},{"f":5708,"v":-26.8},{"f":5733,"v":-26.4},{"f":5758,"v":-26.2},{"f":5795,"v":-25.9},{"f":5820,"v":-26.4},{"f":5845,"v":-27.4},{"f":5870,"v":-29.2},{"f":5895,"v":-30.1},{"f":5908,"v":-31.0},{"f":5933,"v":-28.9},{"f":5958,"v":-28.4},{"f":5983,"v":-28.6},{"f":6008,"v":-27.1},{"f":6033,"v":-26.4},{"f":6058,"v":-27.4},{"f":6083,"v":-29.5},{"f":6108,"v":-31.8},{"f":6133,"v":-34.2},{"f":6158,"v":-35.1},{"f":6183,"v":-35.4},{"f":6208,"v":-36.0},{"f":6233,"v":-36.3},{"f":6258,"v":-35.4},{"f":6283,"v":-34.2},{"f":6300,"v":-34.5},{"f":6320,"v":-35.7},{"f":6338,"v":-38.3},{"f":6363,"v":-39.8},{"f":6388,"v":-42.2},{"f":6413,"v":-42.5},{"f":6438,"v":-43.9},{"f":6455,"v":-44.8},{"f":6475,"v":-41.6},{"f":6500,"v":-41.0},{"f":6530,"v":-40.1},{"f":6550,"v":-42.2},{"f":6575,"v":-42.7},{"f":6613,"v":-40.7},{"f":6650,"v":-41.9},{"f":6688,"v":-41.6},{"f":6725,"v":-40.7},{"f":6763,"v":-40.2},{"f":6788,"v":-41.0},{"f":6813,"v":-41.9},{"f":6850,"v":-42.5},{"f":6880,"v":-42.7},{"f":6913,"v":-43.0},{"f":6945,"v":-43.3},{"f":6975,"v":-42.5},{"f":7013,"v":-41.9},{"f":7038,"v":-42.5},{"f":7063,"v":-43.9},{"f":7088,"v":-46},{"f":7163,"v":-46},{"f":7238,"v":-46},{"f":7263,"v":-43.9},{"f":7280,"v":-43.2},{"f":7300,"v":-43.6},{"f":7330,"v":-42.2},{"f":7350,"v":-42.0},{"f":7375,"v":-42.7},{"f":7400,"v":-43.6},{"f":7425,"v":-44.8},{"f":7450,"v":-43.3},{"f":7475,"v":-42.5},{"f":7500,"v":-42.3}]
},
"encoding":{
"x":{"field":"f","type":"quantitative","scale":{"domain":[300,7500],"nice":false,"zero":false},
"axis":{"values":[300,600,900,1200,1500,1800,2100,2400,2700,3000,3300,3600,3900,4200,4500,4800,5100,5400,5700,6000,6300,6600,6900,7200,7500],"labelExpr":"toString(datum.value)","labelAngle":-90,"labelFontSize":16.5,"labelPadding":9,"title":"Frequency, MHz","titleFontSize":18,"titleFontWeight":"bold","titlePadding":18,"labelFlush":false,"labelOverlap":false}},
"y":{"field":"v","type":"quantitative","scale":{"domain":[-45,0],"nice":false,"zero":false},
"axis":{"values":[-45,-40,-35,-30,-25,-20,-15,-10,-5,0],"labelExpr":"toString(datum.value)","labelFontSize":17,"labelPadding":17,"title":"Isolation, dB","titleFontSize":18,"titleFontWeight":"bold","titlePadding":6,"labelFlush":false,"labelOverlap":false}}
},
"layer":[
{"data":{"name":"s1"},"mark":{"type":"line","strokeWidth":4.2,"interpolate":"monotone","clip":true},
"encoding":{"color":{"datum":"Wifi 3-5G 1","type":"nominal","scale":{"domain":["Wifi 3-5G 1","Wifi 3-5G 2","Wifi 3-5G 3","Wifi 3-5G 4"],"range":["#558ED5","#8E3A36","#F79646","#4BACC6"]},
"legend":{"title":null,"orient":"none","legendX":157,"legendY":597,"direction":"horizontal","symbolType":"stroke","symbolSize":1444,"symbolStrokeWidth":4,"labelFontSize":18,"labelColor":"#000","labelOffset":2,"columnPadding":16,"labelFont":"Liberation Sans"}}}},
{"data":{"name":"s2"},"mark":{"type":"line","strokeWidth":4.2,"interpolate":"monotone","clip":true},
"encoding":{"color":{"datum":"Wifi 3-5G 2","type":"nominal"}}},
{"data":{"name":"s3"},"mark":{"type":"line","strokeWidth":2.6,"interpolate":"monotone","clip":true},
"encoding":{"color":{"datum":"Wifi 3-5G 3","type":"nominal"}}},
{"data":{"name":"s4"},"mark":{"type":"line","strokeWidth":2.6,"interpolate":"monotone","clip":true},
"encoding":{"color":{"datum":"Wifi 3-5G 4","type":"nominal"}}}
]
}
